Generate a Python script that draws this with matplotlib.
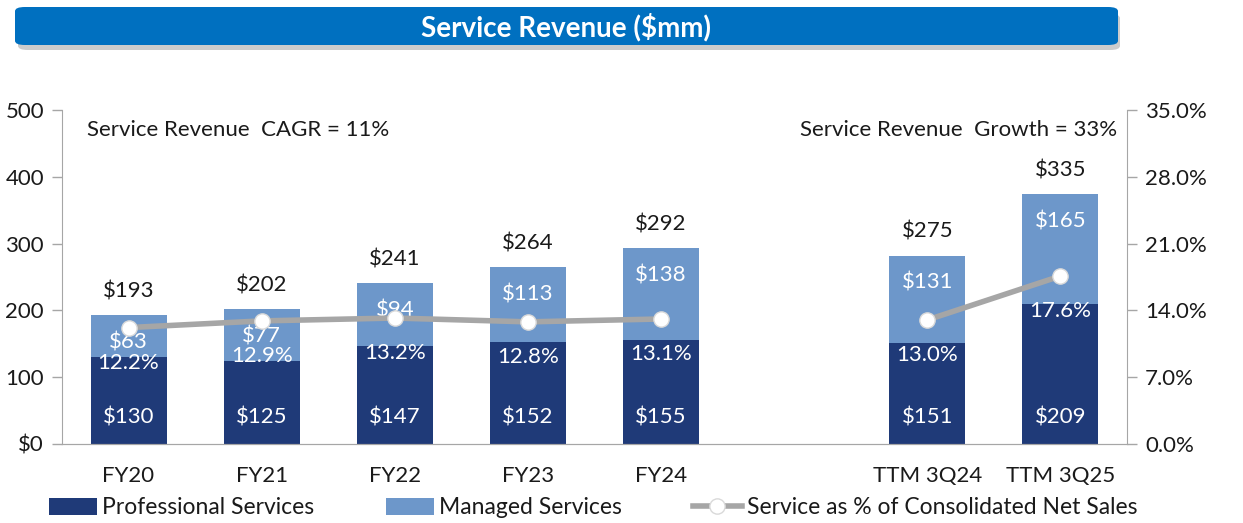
import numpy as np
import matplotlib.pyplot as plt
from matplotlib.patches import FancyBboxPatch
from matplotlib.ticker import FuncFormatter

plt.rcParams['font.family'] = ['Lato', 'DejaVu Sans']

categories = ['FY20', 'FY21', 'FY22', 'FY23', 'FY24', 'TTM 3Q24', 'TTM 3Q25']
positions = [0, 1, 2, 3, 4, 6, 7]
professional = [130, 125, 147, 152, 155, 151, 209]
managed = [63, 77, 94, 113, 138, 131, 165]
totals = ['$193', '$202', '$241', '$264', '$292', '$275', '$335']
pct = [12.2, 12.9, 13.2, 12.8, 13.1, 13.0, 17.6]
line_groups = [[0, 1, 2, 3, 4], [5, 6]]  # no line across the gap

dark = '#1F3A78'
light = '#6D97CA'
grey_line = '#A6A6A6'
spine_col = '#A6A6A6'
fs = 16

fig = plt.figure(figsize=(12.43, 5.23), dpi=100)
ax = fig.add_axes([62 / 1243, 1 - 444 / 523, (1127 - 62) / 1243, (444 - 110) / 523])
ax2 = ax.twinx()

w = 0.57
ax.bar(positions, professional, w, color=dark, label='Professional Services', zorder=2)
ax.bar(positions, managed, w, bottom=professional, color=light, label='Managed Services', zorder=2)

ax.set_xlim(-0.5, 7.5)
ax.set_ylim(0, 500)
ax.set_yticks(range(0, 501, 100))
ax.yaxis.set_major_formatter(FuncFormatter(lambda v, p: '$0' if v == 0 else f'{v:.0f}'))
ax.set_xticks(positions)
ax.set_xticklabels(categories)

ax2.set_ylim(0, 35)
ax2.set_yticks(np.arange(0, 35.1, 7))
ax2.yaxis.set_major_formatter(FuncFormatter(lambda v, p: f'{v:.1f}%'))

for a in (ax, ax2):
    for s in a.spines.values():
        s.set_color(spine_col)
    a.spines['top'].set_visible(False)
    a.tick_params(axis='y', colors=spine_col, labelcolor='#1a1a1a', labelsize=16, length=7, width=1)
    a.tick_params(axis='x', length=0, labelsize=fs, pad=16, labelcolor='#1a1a1a')
ax.spines['right'].set_visible(False)
ax2.spines['left'].set_visible(False)
ax.tick_params(axis='y', pad=6)
ax2.tick_params(axis='y', pad=6)

# line on secondary axis
for grp in line_groups:
    xs = [positions[i] for i in grp]
    ys = [pct[i] for i in grp]
    ax2.plot(xs, ys, color=grey_line, lw=4, marker='o', ms=11, mfc='white',
             mec='#D9D9D9', mew=1, zorder=3, solid_capstyle='butt')
ax2.plot([], [], color=grey_line, lw=4, marker='o', ms=11, mfc='white', mec='#D9D9D9',
         label='Service as % of Consolidated Net Sales')

for x, p, m, t, v in zip(positions, professional, managed, totals, pct):
    top = p + m
    ax.annotate(t, (x, top), xytext=(0, 10), textcoords='offset points',
                ha='center', va='bottom', fontsize=fs, color='#1a1a1a')
    ax.annotate(f'${m}', (x, top), xytext=(0, -19.5), textcoords='offset points',
                ha='center', va='center', fontsize=fs, color='white', zorder=5)
    ax.annotate(f'${p}', (x, 0), xytext=(0, 19), textcoords='offset points',
                ha='center', va='center', fontsize=fs, color='white', zorder=5)
    ax2.annotate(f'{v:.1f}%', (x, v), xytext=(0, -25.5), textcoords='offset points',
                 ha='center', va='center', fontsize=fs, color='white', zorder=5)

ax.text(87 / 1243, 1 - 130 / 523, 'Service Revenue  CAGR = 11%', transform=fig.transFigure,
        ha='left', va='center', fontsize=fs, color='#1a1a1a')
ax.text(1117 / 1243, 1 - 130 / 523, 'Service Revenue  Growth = 33%', transform=fig.transFigure,
        ha='right', va='center', fontsize=fs, color='#1a1a1a')

# title banner with shadow
shadow = FancyBboxPatch((18 / 1243, 1 - 50 / 523), 1102 / 1243, 36 / 523,
                        boxstyle='round,pad=0,rounding_size=0.008', transform=fig.transFigure,
                        fc='#AAAAAA', ec='none', alpha=0.6, zorder=1)
banner = FancyBboxPatch((15 / 1243, 1 - 45 / 523), 1103 / 1243, 38 / 523,
                        boxstyle='round,pad=0,rounding_size=0.008', transform=fig.transFigure,
                        fc='#0070C0', ec='none', zorder=2)
fig.patches.extend([shadow, banner])
fig.text(566 / 1243, 1 - 27 / 523, 'Service Revenue ($mm)', ha='center', va='center',
         fontsize=20, fontweight='bold', color='white', zorder=3)

h1, l1 = ax.get_legend_handles_labels()
h2, l2 = ax2.get_legend_handles_labels()
fig.legend(h1 + h2, l1 + l2, ncol=3, loc='center left', bbox_to_anchor=(28 / 1243, 1 - 508 / 523),
           frameon=False, fontsize=16.5, handlelength=2.1, handleheight=0.7, columnspacing=3.1,
           handletextpad=0.25, labelcolor='#1a1a1a')

fig.savefig('out.png', dpi=100)
